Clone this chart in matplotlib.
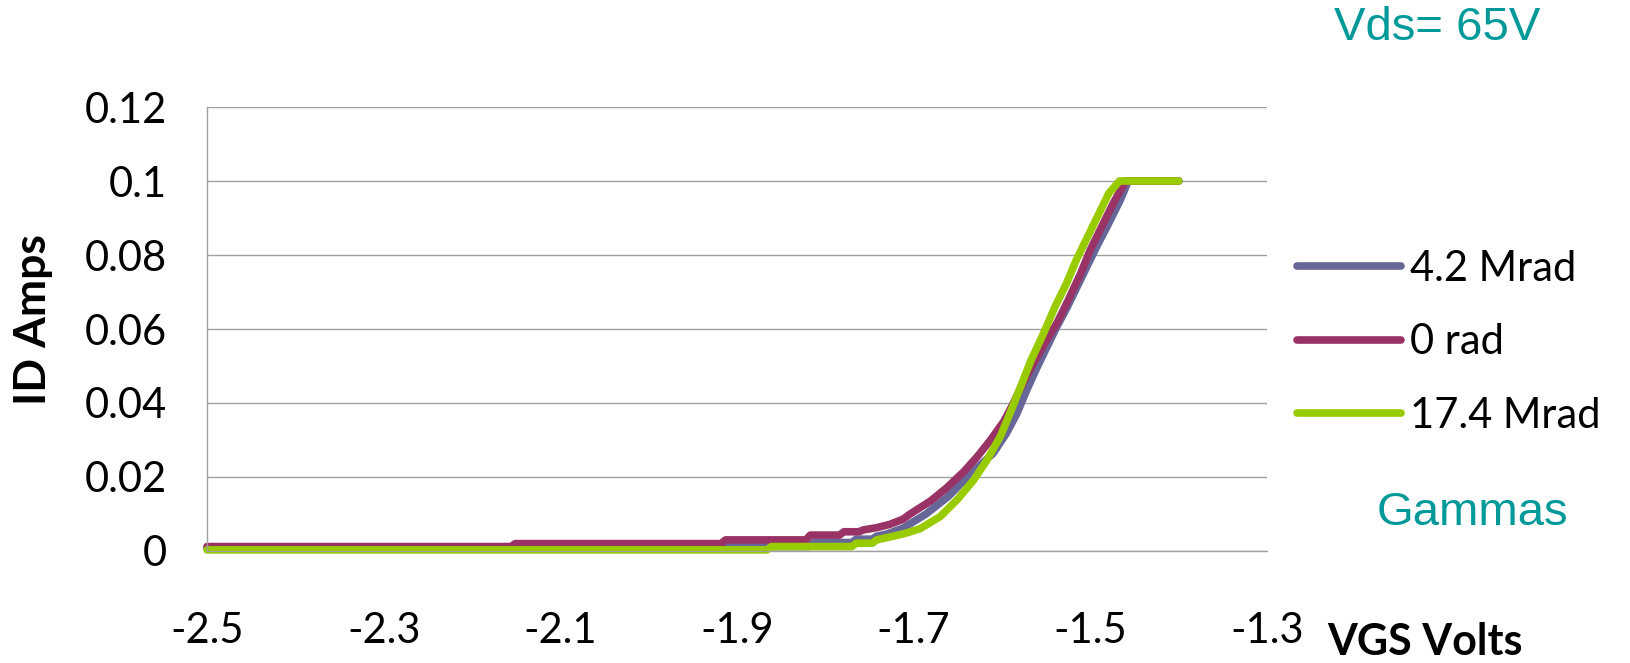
import numpy as np
import matplotlib
matplotlib.use("Agg")
import matplotlib.pyplot as plt

# ─── data (VGS in V, ID in A) ─────────────────────────────────────
vgs_42 = [-2.500, -1.918, -1.913, -1.818, -1.813, -1.770, -1.765, -1.747,
          -1.742, -1.730, -1.712, -1.686, -1.661, -1.635, -1.610, -1.595,
          -1.583, -1.572, -1.560, -1.549, -1.538, -1.526, -1.515, -1.504,
          -1.493, -1.481, -1.466, -1.457, -1.400]
id_42 = [0.0008, 0.0008, 0.0012, 0.0012, 0.0023, 0.0023, 0.0032, 0.0032,
         0.0040, 0.0046, 0.0062, 0.0100, 0.0147, 0.0210, 0.0264, 0.0318,
         0.0372, 0.0435, 0.0498, 0.0552, 0.0606, 0.0660, 0.0714, 0.0768,
         0.0822, 0.0877, 0.0949, 0.1000, 0.1000]

vgs_0 = [-2.500, -2.156, -2.151, -1.918, -1.913, -1.822, -1.817, -1.784,
         -1.779, -1.762, -1.757, -1.742, -1.727, -1.712, -1.704, -1.681,
         -1.663, -1.643, -1.628, -1.613, -1.598, -1.588, -1.578, -1.566,
         -1.552, -1.538, -1.525, -1.511, -1.500, -1.487, -1.474, -1.460,
         -1.400]
id_0 = [0.0012, 0.0012, 0.0020, 0.0020, 0.0030, 0.0030, 0.0043, 0.0043,
        0.0052, 0.0052, 0.0057, 0.0063, 0.0072, 0.0086, 0.0100, 0.0135,
        0.0170, 0.0215, 0.0255, 0.0300, 0.0350, 0.0395, 0.0445, 0.0500,
        0.0560, 0.0615, 0.0678, 0.0750, 0.0814, 0.0877, 0.0940, 0.1000,
        0.1000]

vgs_174 = [-2.500, -1.866, -1.861, -1.770, -1.765, -1.747, -1.742, -1.727,
           -1.712, -1.693, -1.670, -1.651, -1.632, -1.617, -1.602, -1.591,
           -1.579, -1.567, -1.553, -1.540, -1.527, -1.516, -1.505, -1.490,
           -1.479, -1.467, -1.400]
id_174 = [0.0003, 0.0003, 0.0012, 0.0012, 0.0021, 0.0021, 0.0030, 0.0038,
          0.0046, 0.0060, 0.0093, 0.0138, 0.0192, 0.0246, 0.0309, 0.0372,
          0.0444, 0.0516, 0.0588, 0.0660, 0.0723, 0.0786, 0.0840, 0.0913,
          0.0967, 0.1000, 0.1000]

labels = ["4.2 Mrad", "0 rad", "17.4 Mrad"]
colors = ["#666699", "#993366", "#99CC00"]
x_ticks = [-2.5, -2.3, -2.1, -1.9, -1.7, -1.5, -1.3]
y_ticks = [0, 0.02, 0.04, 0.06, 0.08, 0.1, 0.12]

W, H = 1630, 663
plt.rcParams['font.family'] = ['Lato', 'DejaVu Sans']

fig = plt.figure(figsize=(W / 100, H / 100), dpi=100)
ax = fig.add_axes([207 / W, (H - 551) / H, (1267 - 207) / W, (551 - 107) / H])

series = [(vgs_42, id_42), (vgs_0, id_0), (vgs_174, id_174)]
for (xs, ys), lab, col in zip(series, labels, colors):
    ax.plot(xs, ys, color=col, lw=5.5, label=lab,
            solid_capstyle='round', solid_joinstyle='round', clip_on=False)

ax.set_xlim(-2.5, -1.3)
ax.set_ylim(0, 0.12)
ax.set_xticks(x_ticks)
ax.set_yticks(y_ticks)
ax.set_xticklabels([f"{v:g}" for v in x_ticks])
ax.set_yticklabels([f"{v:g}" for v in y_ticks])
ax.tick_params(length=0, labelsize=30, colors='black')
ax.tick_params(axis='x', pad=44)
ax.tick_params(axis='y', pad=29)

ax.grid(axis='y', color='#a0a0a0', lw=1.0)
ax.set_axisbelow(True)
for s in ['top', 'right']:
    ax.spines[s].set_visible(False)
for s in ['left', 'bottom']:
    ax.spines[s].set_color('#a0a0a0')
    ax.spines[s].set_linewidth(1.0)

leg = ax.legend(loc='center left', bbox_to_anchor=(1.028, 0.47),
                frameon=False, fontsize=30, handlelength=2.5,
                handletextpad=0.22, labelspacing=0.85,
                borderpad=0, borderaxespad=0)
for ln in leg.get_lines():
    ln.set_linewidth(5.5)
    ln.set_solid_capstyle('round')

fig.text(33 / W, 1 - 320 / H, "ID Amps", rotation=90, fontsize=32,
         fontweight='bold', ha='center', va='center')
fig.text(1327 / W, 1 - 655 / H, "VGS Volts", fontsize=31,
         fontweight='bold', ha='left', va='baseline')

teal = '#009999'
fig.text(1437 / W, 1 - 28 / H, "Vds= 65V", fontsize=34, color=teal,
         family=['Liberation Sans'], ha='center', va='center')
fig.text(1472 / W, 1 - 513 / H, "Gammas", fontsize=34, color=teal,
         family=['Liberation Sans'], ha='center', va='center')

fig.savefig("out.png", dpi=100)
